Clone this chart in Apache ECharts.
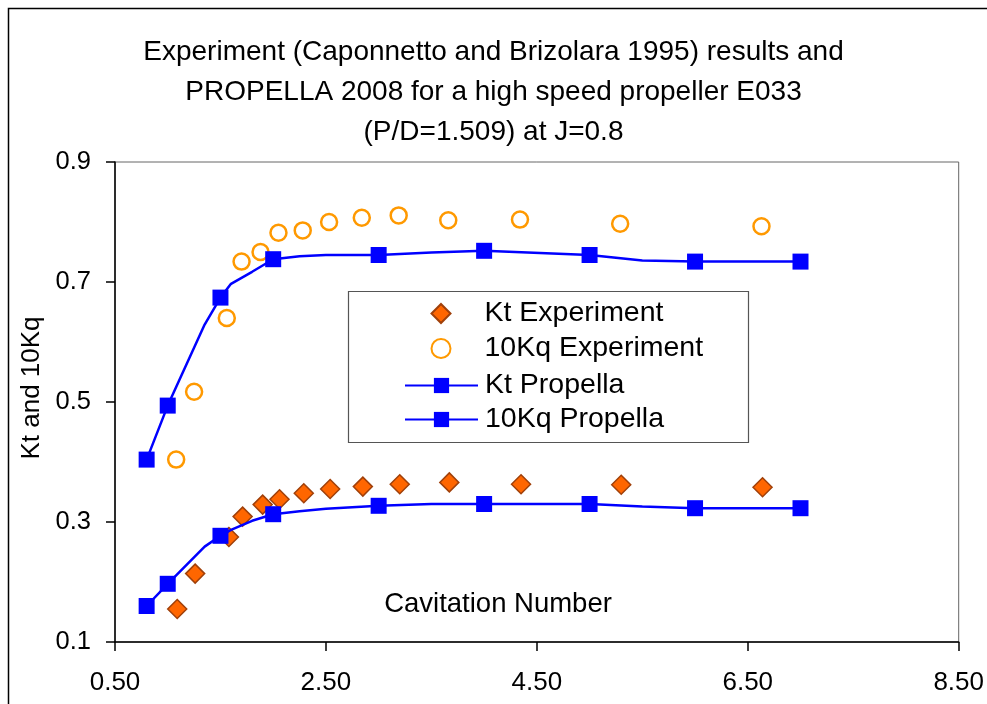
<!DOCTYPE html>
<html>
<head>
<meta charset="utf-8">
<script src="https://cdn.jsdelivr.net/npm/echarts/dist/echarts.min.js"></script>
<style>
html,body{margin:0;padding:0;background:#fff;}
#chart{width:987px;height:704px;}
</style>
</head>
<body>
<div id="chart"></div>
<script>
// ---- data ----
const titleLines = [
  'Experiment (Caponnetto and Brizolara 1995) results and',
  'PROPELLA 2008 for a high speed propeller E033',
  '(P/D=1.509) at J=0.8'
];
const xAxisTitle = 'Cavitation Number';
const yAxisTitle = 'Kt and 10Kq';
const seriesNames = ['Kt Experiment', '10Kq Experiment', 'Kt Propella', '10Kq Propella'];

// Experiment (symbols only)
const sigmaKtExp = [1.09, 1.26, 1.58, 1.71, 1.90, 2.06, 2.29, 2.54, 2.85, 3.20, 3.67, 4.35, 5.30, 6.64];
const ktExp      = [0.155, 0.214, 0.275, 0.309, 0.329, 0.338, 0.348, 0.355, 0.359, 0.363, 0.366, 0.363, 0.362, 0.358];
const sigmaKqExp = [1.08, 1.25, 1.56, 1.70, 1.88, 2.05, 2.28, 2.53, 2.84, 3.19, 3.66, 4.34, 5.29, 6.63];
const kq10Exp    = [0.404, 0.517, 0.640, 0.734, 0.750, 0.782, 0.786, 0.800, 0.807, 0.811, 0.803, 0.804, 0.797, 0.793];

// PROPELLA (line; markers only at the marked sigma values)
const sigmaProp  = [0.8, 1.0, 1.35, 1.5, 1.6, 1.8, 2.0, 2.25, 2.5, 3.0, 3.5, 4.0, 5.0, 5.5, 6.0, 7.0];
const ktProp     = [0.160, 0.197, 0.259, 0.277, 0.287, 0.302, 0.313, 0.318, 0.322, 0.327, 0.330, 0.330, 0.330, 0.326, 0.323, 0.323];
const kq10Prop   = [0.404, 0.494, 0.629, 0.674, 0.697, 0.717, 0.738, 0.743, 0.745, 0.745, 0.749, 0.752, 0.745, 0.736, 0.734, 0.734];
const markedSigma = [0.8, 1.0, 1.5, 2.0, 3.0, 4.0, 5.0, 6.0, 7.0];

// axis ranges / ticks
const xMin = 0.5, xMax = 8.5, xStep = 2;
const yMin = 0.1, yMax = 0.9, yStep = 0.2;

// ---- chart ----
const FONT = '"Liberation Sans", Arial, sans-serif';
const pairs = (xs, ys) => xs.map((x, i) => [x, ys[i]]);
const propData = ys => sigmaProp.map((s, i) => ({
  value: [s, ys[i]],
  symbol: markedSigma.indexOf(s) >= 0 ? 'rect' : 'none'
}));
const legendText = {fontFamily: FONT, fontSize: 28.5, color: '#000', lineHeight: 26};

const chart = echarts.init(document.getElementById('chart'), null, {renderer: 'canvas'});
chart.setOption({
  animation: false,
  backgroundColor: '#ffffff',
  title: {
    text: titleLines.join('\n'),
    left: 'center',
    top: 27,
    textStyle: {fontFamily: FONT, fontSize: 28, fontWeight: 'normal', color: '#000', lineHeight: 40}
  },
  graphic: [
    {type: 'rect', shape: {x: 8.5, y: 8.5, width: 1200, height: 1200},
     style: {fill: 'none', stroke: '#000', lineWidth: 1.5}, silent: true, z: -1},
    {type: 'rect', shape: {x: 348.5, y: 291.5, width: 400, height: 151},
     style: {fill: '#fff', stroke: '#555', lineWidth: 1.2}, silent: true, z: 1},
    {type: 'text', x: 498, y: 604, z: 5,
     style: {text: xAxisTitle, fontFamily: FONT, fontSize: 27.5, fill: '#000',
             textAlign: 'center', textVerticalAlign: 'middle'}}
  ],
  grid: {left: 115, right: 26, top: 162, bottom: 62, show: true, borderColor: '#666', borderWidth: 1, containLabel: false},
  legend: [
    {
      orient: 'vertical', left: 430.5, top: 299, padding: 0, z: 5,
      itemWidth: 19, itemHeight: 19, itemGap: 6,
      textStyle: Object.assign({padding: [0, 0, 0, 29]}, legendText),
      data: seriesNames.slice(0, 2)
    },
    {
      orient: 'vertical', left: 404, top: 371, padding: 0, z: 5,
      itemWidth: 73, itemHeight: 19, itemGap: 5,
      textStyle: Object.assign({padding: [0, 0, 0, 2]}, legendText),
      data: seriesNames.slice(2, 4)
    }
  ],
  xAxis: {
    type: 'value', min: xMin, max: xMax, interval: xStep,
    axisLine: {show: true, lineStyle: {color: '#000', width: 1.5}},
    axisTick: {show: true, length: 9, lineStyle: {color: '#000', width: 1.5}},
    splitLine: {show: false},
    axisLabel: {fontFamily: FONT, fontSize: 26, color: '#000', margin: 28,
                formatter: v => v.toFixed(2)}
  },
  yAxis: {
    type: 'value', min: yMin, max: yMax, interval: yStep,
    name: yAxisTitle, nameLocation: 'middle', nameGap: 58,
    nameTextStyle: {fontFamily: FONT, fontSize: 26, color: '#000', padding: [0, 0, 0, 28]},
    axisLine: {show: true, lineStyle: {color: '#000', width: 1.5}},
    axisTick: {show: true, length: 9, lineStyle: {color: '#000', width: 1.5}},
    splitLine: {show: false},
    axisLabel: {fontFamily: FONT, fontSize: 25.5, color: '#000', margin: 24,
                formatter: v => v.toFixed(1)}
  },
  series: [
    {
      name: seriesNames[0], type: 'scatter', symbol: 'diamond', symbolSize: 19,
      itemStyle: {color: '#FF6600', borderColor: '#A0400A', borderWidth: 1.5, opacity: 1},
      data: pairs(sigmaKtExp, ktExp), z: 2
    },
    {
      name: seriesNames[1], type: 'scatter', symbol: 'circle', symbolSize: 16,
      itemStyle: {color: '#ffffff', borderColor: '#FF9900', borderWidth: 2.5, opacity: 1},
      data: pairs(sigmaKqExp, kq10Exp), z: 2
    },
    {
      name: seriesNames[2], type: 'line', symbol: 'rect', symbolSize: 16, smooth: false,
      itemStyle: {color: '#0000FF'}, lineStyle: {color: '#0000FF', width: 2.5},
      data: propData(ktProp), z: 3
    },
    {
      name: seriesNames[3], type: 'line', symbol: 'rect', symbolSize: 16, smooth: false,
      itemStyle: {color: '#0000FF'}, lineStyle: {color: '#0000FF', width: 2.5},
      data: propData(kq10Prop), z: 3
    }
  ]
});
</script>
</body>
</html>
